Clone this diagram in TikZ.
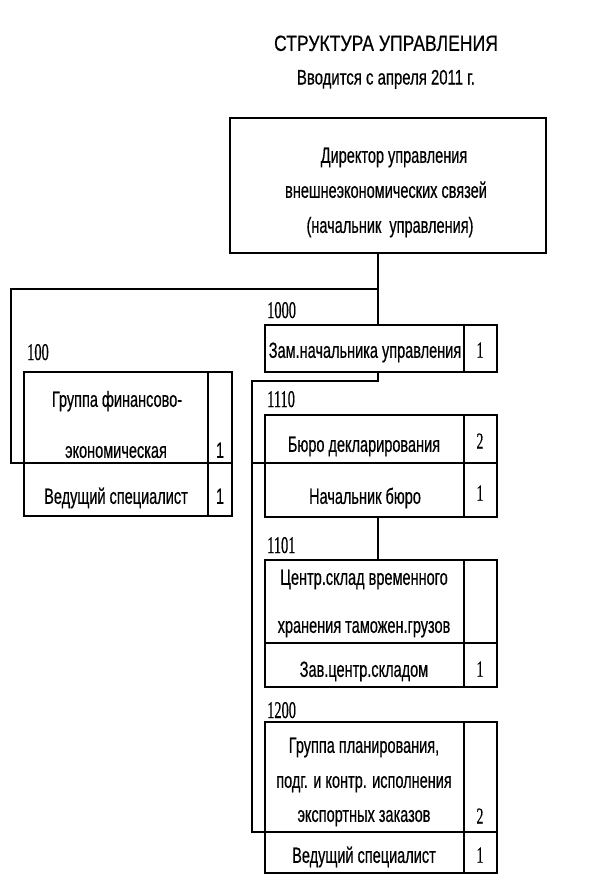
\documentclass[tikz,border=0pt]{standalone}
\usepackage{fontspec}
\setmainfont{Liberation Sans}
\newfontfamily\nar[FakeStretch=0.66,FakeBold=0.5]{Liberation Sans}
\newfontfamily\tnar[FakeStretch=0.80,FakeBold=0.5]{Liberation Sans}
\newfontfamily\snar[FakeStretch=0.71,FakeBold=0.5]{Liberation Sans}
\newfontfamily\nser[FakeStretch=0.6,FakeBold=0.4]{Liberation Serif}
\begin{document}
\begin{tikzpicture}[x=1pt,y=-1pt,
  cell/.style={draw, line width=1.1pt, anchor=north west, inner sep=0pt, outer sep=0pt},
  conn/.style={line width=1.1pt},
  tx/.style={font=\nar\fontsize{22}{22}\selectfont, inner sep=0pt, text height=15.7pt, text depth=0pt},
  big/.style={font=\tnar\fontsize{22}{22}\selectfont, inner sep=0pt, text height=15.8pt, text depth=0pt},
  sub/.style={font=\snar\fontsize{21}{21}\selectfont, inner sep=0pt, text height=15pt, text depth=0pt},
  code/.style={font=\nser\fontsize{24}{24}\selectfont, inner sep=0pt, text height=16pt, text depth=0pt, anchor=west},
  num/.style={font=\nser\fontsize{23}{23}\selectfont, inner sep=0pt, text height=15.4pt, text depth=0pt},
  snum/.style={font=\nar\fontsize{22}{22}\selectfont, inner sep=0pt, text height=15.7pt, text depth=0pt},
]
\useasboundingbox (0,0) rectangle (591,886);

% titles
\node[big] (title) at (386,43) {СТРУКТУРА УПРАВЛЕНИЯ};
\node[sub] (subtitle) at (386,77) {Вводится с апреля 2011 г.};

% director
\node[cell, minimum width=316pt, minimum height=135pt] (dir) at (230,118) {};
\node[tx] (dirl1) at (394,155) {Директор управления};
\node[tx] (dirl2) at (386,190) {внешнеэкономических связей};
\node[tx] (dirl3) at (390,225) {(начальник\ \ управления)};

% group finance
\node[code] (c100) at (27,352) {100};
\node[cell, minimum width=184pt, minimum height=91pt] (fint) at (24,372) {};
\node[cell, minimum width=24pt, minimum height=91pt] (finn) at (208,372) {};
\node[cell, minimum width=184pt, minimum height=53pt] (fins) at (24,463) {};
\node[cell, minimum width=24pt, minimum height=53pt] (finsn) at (208,463) {};
\node[tx] (finl1) at (117,399) {Группа финансово-};
\node[tx] (finl2) at (116,450) {экономическая};
\node[snum] (finv) at (220,450) {1};
\node[tx] (finsl) at (116,496) {Ведущий специалист};
\node[snum] (finsv) at (220,496) {1};

% deputy
\node[code] (c1000) at (267,310) {1000};
\node[cell, minimum width=199pt, minimum height=47pt] (zamt) at (265,325) {};
\node[cell, minimum width=33pt, minimum height=47pt] (zamn) at (464,325) {};
\node[tx] (zaml) at (365,350) {Зам.начальника управления};
\node[num] (zamv) at (480,350) {1};

% bureau
\node[code] (c1110) at (267,399) {1110};
\node[cell, minimum width=199pt, minimum height=48pt] (buret) at (265,415) {};
\node[cell, minimum width=33pt, minimum height=48pt] (buren) at (464,415) {};
\node[cell, minimum width=199pt, minimum height=54pt] (bures) at (265,463) {};
\node[cell, minimum width=33pt, minimum height=54pt] (buresn) at (464,463) {};
\node[tx] (burel) at (364,444) {Бюро декларирования};
\node[num] (burev) at (480,441) {2};
\node[tx] (buresl) at (365,496) {Начальник бюро};
\node[num] (buresv) at (480,493) {1};

% central store
\node[code] (c1101) at (267,545) {1101};
\node[cell, minimum width=199pt, minimum height=83pt] (cent) at (265,560) {};
\node[cell, minimum width=33pt, minimum height=83pt] (cenn) at (464,560) {};
\node[cell, minimum width=199pt, minimum height=44pt] (cens) at (265,643) {};
\node[cell, minimum width=33pt, minimum height=44pt] (censn) at (464,643) {};
\node[tx] (cenl1) at (364,577) {Центр.склад временного};
\node[tx] (cenl2) at (364,625) {хранения таможен.грузов};
\node[tx] (censl) at (364,669) {Зав.центр.складом};
\node[num] (censv) at (480,669) {1};

% planning group
\node[code] (c1200) at (267,710) {1200};
\node[cell, minimum width=199pt, minimum height=110pt] (plant) at (265,722) {};
\node[cell, minimum width=33pt, minimum height=110pt] (plann) at (464,722) {};
\node[cell, minimum width=199pt, minimum height=41pt] (plans) at (265,832) {};
\node[cell, minimum width=33pt, minimum height=41pt] (plansn) at (464,832) {};
\node[tx] (planl1) at (364,745) {Группа планирования,};
\node[tx] (planl2) at (364,780) {подг. и контр. исполнения};
\node[tx] (planl3) at (364,814) {экспортных заказов};
\node[num] (planv) at (480,816) {2};
\node[tx] (plansl) at (364,855) {Ведущий специалист};
\node[num] (plansv) at (480,855) {1};

% connectors
\coordinate (trunk) at (378,0);
\coordinate (j1) at (378,289);
\coordinate (lb) at (11,289);
\coordinate (j2) at (378,381);
\coordinate (sp) at (252,381);

\draw[conn] (dir.south -| trunk) -- (zamt.north -| trunk);
\draw[conn] (j1) -- (lb) |- (fint.south west);
\draw[conn] (zamt.south -| trunk) -- (j2) -- (sp) |- (plant.south west);
\draw[conn] (sp |- buret.south west) -- (buret.south west);
\draw[conn] (bures.south -| trunk) -- (cent.north -| trunk);
\end{tikzpicture}
\end{document}
